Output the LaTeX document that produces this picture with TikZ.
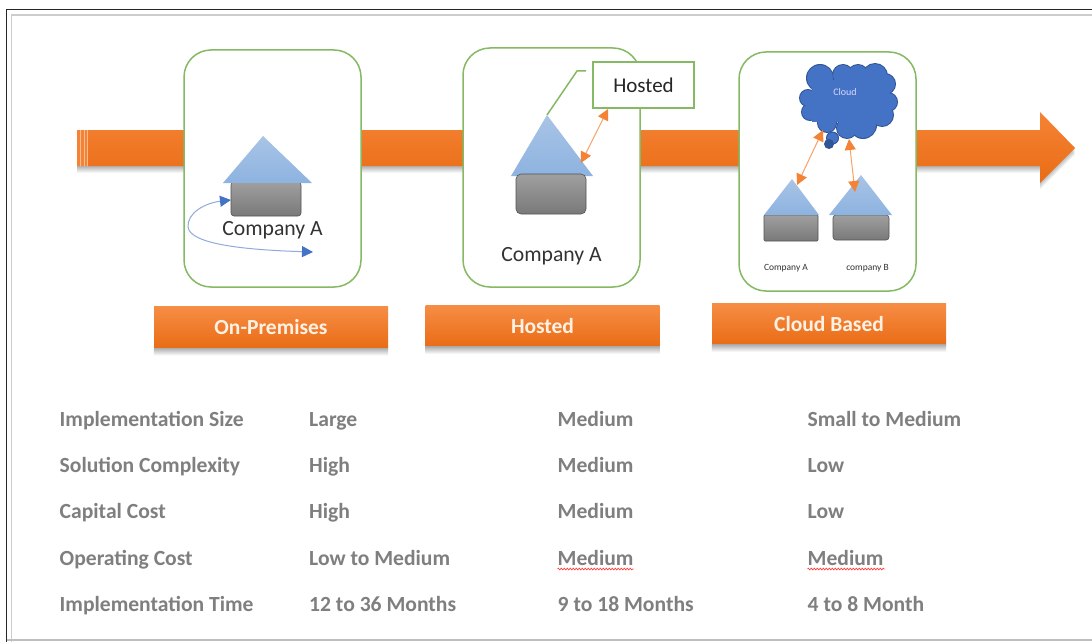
\documentclass[tikz,border=0pt]{standalone}
\usepackage{fontspec}
\setmainfont{Carlito}
\usetikzlibrary{arrows.meta,decorations.pathmorphing,calc}
\definecolor{orangeT}{HTML}{F58335}
\definecolor{orangeB}{HTML}{E96C15}
\definecolor{greenL}{HTML}{70AD47}
\definecolor{roofT}{HTML}{A9C4E6}
\definecolor{roofB}{HTML}{8DB3E0}
\definecolor{txt}{HTML}{7F7F7F}
\definecolor{blueC}{HTML}{4472C4}
\definecolor{blueD}{HTML}{2F5597}
\definecolor{blueL}{HTML}{8FAADC}
\tikzset{
  x=1pt,y=-1pt,
  panel/.style={draw=greenL!85!white,line width=1.5pt,fill=white,rounded corners=27pt,minimum width=#1,inner sep=0pt},
  banner/.style={top color=orangeT!92!white,bottom color=orangeB,text=white!90!orange,font=\fontsize{21.5}{23}\selectfont\bfseries,minimum width=234pt,minimum height=41.5pt,inner sep=0pt},
  softshade/.style={top color=black!30,bottom color=white,draw=none},
  roof/.style={top color=roofT,bottom color=roofB,draw=none},
  base/.style={top color=gray!75,bottom color=gray!95!black,draw=gray!65!black,line width=.6pt,rounded corners=3pt,inner sep=0pt},
  label/.style={text=black!80,font=\fontsize{21.7}{23}\selectfont,inner sep=0pt},
  tiny/.style={font=\fontsize{9.5}{10}\selectfont,text=black!80,inner sep=0pt},
  rowt/.style={text=txt,font=\fontsize{21.6}{23}\selectfont\bfseries,anchor=base west,inner sep=0pt},
  orangearrow/.style={draw=orangeT!75!white,line width=1pt,{Triangle[length=11pt,width=11pt,color=orangeT]}-{Triangle[length=11pt,width=11pt,color=orangeT]}},
  bluearrow/.style={draw=blueL,line width=1pt,{Triangle[length=11pt,width=11pt,color=blueC]}-{Triangle[length=11pt,width=11pt,color=blueC]}},
  squiggle/.style={red!75,line width=.7pt,decorate,decoration={zigzag,segment length=3pt,amplitude=.8pt}},
}
\begin{document}
\begin{tikzpicture}
\useasboundingbox (0,0) rectangle (1092,642);
\fill[white] (0,0) rectangle (1092,642);
% outer frame
\draw[black!85,line width=1pt] (6.5,642) -- (6.5,10) -- (1092,10);
\draw[gray!40,line width=1.5pt] (11.5,642) -- (11.5,15) -- (1092,15);
\draw[gray!50,line width=1.5pt] (6.5,640) -- (1092,640);
% main arrow
\path[softshade] (77,166) rectangle (1040,173);
\foreach \d in {2,4,6}{\fill[black,opacity=.08] (1040,{112+\d}) -- (1075,{148+\d}) -- (1040,{183+\d}) -- cycle;}
\path[top color=orangeT,bottom color=orangeB] (88,130) -- (1040,130) -- (1040,112) -- (1075,148) -- (1040,183) -- (1040,166) -- (88,166) -- cycle;
\fill[orangeT!55!white] (77,130) rectangle (88,166);
\fill[orangeT] (77,130) rectangle (79.5,166);
\fill[orangeT] (81,130) rectangle (83.5,166);
\fill[orangeT] (85,130) rectangle (87,166);
% panels
\node[panel=177pt,minimum height=237pt] (p1) at (272.5,168.5) {};
\node[panel=177pt,minimum height=239pt] (p2) at (551.5,167.5) {};
\node[panel=177pt,minimum height=239pt] (p3) at (827.5,171.5) {};
% banners
\node[banner] (b1) at (271,327.5) {On-Premises};
\node[banner] (b2) at (542.5,326) {Hosted};
\node[banner] (b3) at (829,324) {Cloud Based};
\foreach \b in {b1,b2,b3}{\path[softshade] (\b.south west) rectangle ($(\b.south east)+(0,7)$);}
% house 1
\node[base,minimum width=70pt,minimum height=34pt] (h1) at (266,199) {};
\path[roof] (223,183) -- (263,136) -- (312,183) -- cycle;
\node[label] (c1) at (272.5,230) {Company A};
\coordinate (l1a) at (231,200);
\coordinate (l1m) at (188,227);
\coordinate (l1b) at (313,252);
\draw[bluearrow] (l1a) .. controls (205,203) and (187,213) .. (l1m) .. controls (190,245) and (250,250) .. (l1b);
% house 2
\path[roof] (511,176) -- (547,115) -- (593,176) -- cycle;
\node[base,rounded corners=5pt,minimum width=70pt,minimum height=40pt] (h2) at (551,194) {};
\node[label] (c2) at (551.5,256) {Company A};
% hosted callout
\coordinate (t2) at (547,115);
\coordinate (k2) at (577,71);
\coordinate (k3) at (586,71);
\node[draw=greenL!85!white,line width=1.5pt,fill=white,minimum width=101pt,minimum height=46pt,inner sep=0pt,font=\fontsize{21}{23}\selectfont,text=black!85] (hc) at (643.5,85) {Hosted};
\draw[greenL!85!white,line width=1.5pt] (t2) -- (k2) -- (k3);
\coordinate (a2a) at (581,163);
\coordinate (a2b) at (608,109);
\draw[orangearrow] (a2a) -- (a2b);
% house 3a
\node[base,rounded corners=1pt,minimum width=54pt,minimum height=26pt] (h3) at (791,228) {};
\path[roof] (764,215) -- (792,179) -- (819,215) -- cycle;
% house 3b
\node[base,minimum width=56pt,minimum height=25pt] (h4) at (861,227.5) {};
\path[roof] (829,215) -- (861,175) -- (892,215) -- cycle;
% cloud
\def\puffs{820/78/13,843/75/10,858/75/10,875/76/12,885/84/10,888/102/9,882/115/11,863/125/13,847/128/10,827/123/9,810/112/8,808/98/8}
\foreach \x/\y/\r in \puffs {\fill[blueD] (\x,\y) circle ({\r+1});}
\foreach \x/\y/\r in \puffs {\fill[blueC] (\x,\y) circle (\r);}
\fill[blueC] (812,80) rectangle (885,122);
\node[text=white!85!blue,font=\fontsize{10}{11}\selectfont,inner sep=0pt] (cl) at (845,92) {Cloud};
\node[circle,fill=blueC,draw=blueD,line width=1pt,minimum size=12pt,inner sep=0pt] (c1b) at (832.5,138) {};
\node[circle,fill=blueD,minimum size=10pt,inner sep=0pt] (c2b) at (829,144) {};
\coordinate (a3a) at (797,185);
\coordinate (a3b) at (823,130);
\draw[orangearrow] (a3a) -- (a3b);
\coordinate (a4a) at (855,192);
\coordinate (a4b) at (849,139);
\draw[orangearrow] (a4a) -- (a4b);
\node[tiny] (c3) at (786,268) {Company A};
\node[tiny] (c4) at (867.5,268) {company B};
% table
\node[rowt] (r1a) at (59.5,426) {Implementation Size};
\node[rowt] (r1b) at (309,426) {Large};
\node[rowt] (r1c) at (557.5,426) {Medium};
\node[rowt] (r1d) at (807.5,426) {Small to Medium};
\node[rowt] (r2a) at (59.5,472) {Solution Complexity};
\node[rowt] (r2b) at (309,472) {High};
\node[rowt] (r2c) at (557.5,472) {Medium};
\node[rowt] (r2d) at (807.5,472) {Low};
\node[rowt] (r3a) at (59.5,518) {Capital Cost};
\node[rowt] (r3b) at (309,518) {High};
\node[rowt] (r3c) at (557.5,518) {Medium};
\node[rowt] (r3d) at (807.5,518) {Low};
\node[rowt] (r4a) at (59.5,565) {Operating Cost};
\node[rowt] (r4b) at (309,565) {Low to Medium};
\node[rowt] (r4c) at (557.5,565) {Medium};
\node[rowt] (r4d) at (807.5,565) {Medium};
\node[rowt] (r5a) at (59.5,611) {Implementation Time};
\node[rowt] (r5b) at (309,611) {12 to 36 Months};
\node[rowt] (r5c) at (557.5,611) {9 to 18 Months};
\node[rowt] (r5d) at (807.5,611) {4 to 8 Month};
% spell-check squiggles
\draw[squiggle] (r4c.base west) ++(0,4) -- ++(76,0);
\draw[squiggle] (r4d.base west) ++(0,4) -- ++(77,0);
\end{tikzpicture}
\end{document}
